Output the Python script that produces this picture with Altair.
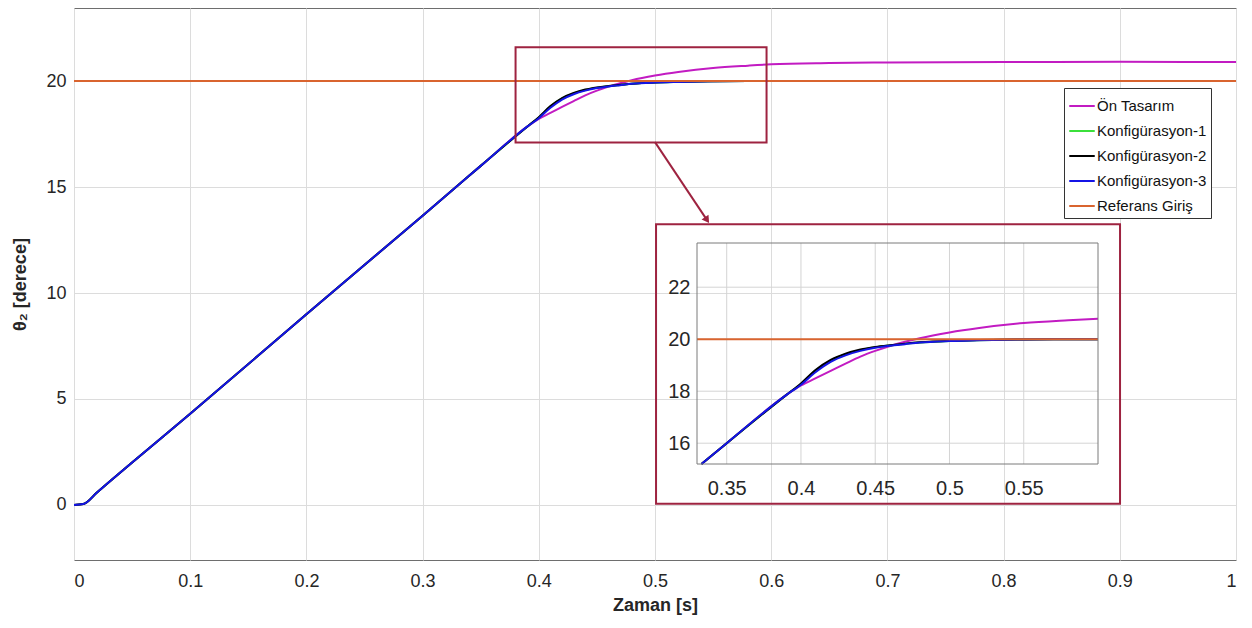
import altair as alt
import pandas as pd

# ---- data ----
T = [0.0, 0.008, 0.02, 0.05, 0.1, 0.2, 0.3, 0.333, 0.35, 0.39, 0.40, 0.41, 0.42, 0.43, 0.44, 0.45,
     0.46, 0.47, 0.48, 0.50, 0.52, 0.55, 0.58, 0.60, 0.65, 0.70, 0.80, 0.90, 1.0]
RAMP = [0.0, 0.04, 0.6, 2.0, 4.3, 9.0, 13.65, 15.2, 16.0, 17.85]
ON_TASARIM = RAMP + [18.22, 18.5, 18.78, 19.06, 19.33, 19.55,
                     19.74, 19.9, 20.04, 20.26, 20.43, 20.62, 20.73, 20.79, 20.85, 20.88, 20.9, 20.91, 20.9]
KONF_1 = RAMP + [18.28, 18.8, 19.18, 19.42, 19.58, 19.69,
                 19.76, 19.82, 19.87, 19.93, 19.96, 19.99, 20.0, 20.0, 20.0, 20.0, 20.0, 20.0, 20.0]
KONF_2 = RAMP + [18.3, 18.82, 19.2, 19.44, 19.6, 19.7,
                 19.77, 19.83, 19.88, 19.94, 19.97, 19.99, 20.0, 20.0, 20.0, 20.0, 20.0, 20.0, 20.0]
KONF_3 = RAMP + [18.25, 18.74, 19.13, 19.38, 19.55, 19.67,
                 19.75, 19.81, 19.87, 19.93, 19.96, 19.99, 20.0, 20.0, 20.0, 20.0, 20.0, 20.0, 20.0]
REF_T = [0.0, 0.33, 0.6, 1.0]
REF = [20.0, 20.0, 20.0, 20.0]

NAMES = ["Ön Tasarım", "Konfigürasyon-1", "Konfigürasyon-2", "Konfigürasyon-3", "Referans Giriş"]
COLORS = ["#C21BC2", "#3BE03B", "#000000", "#1414E6", "#D9642F"]

X_TICKS = [0, 0.1, 0.2, 0.3, 0.4, 0.5, 0.6, 0.7, 0.8, 0.9, 1.0]
Y_TICKS = [0, 5, 10, 15, 20]
IN_X_TICKS = [0.35, 0.4, 0.45, 0.5, 0.55]
IN_Y_TICKS = [16, 18, 20, 22]

# ---- layout constants ----
W, H = 1162, 552
X_DOM = [0, 1]
Y_DOM = [-2.6, 23.45]
IN_X_DOM = [0.33, 0.6]
IN_Y_DOM = [15.2, 23.7]
IN_X_RANGE = [623, 1024]
IN_Y_RANGE = [456, 235]
FONT = "Liberation Sans"
BOX = "#9E2340"

rows = []
for name, ys in zip(NAMES[:4], [ON_TASARIM, KONF_1, KONF_2, KONF_3]):
    for t, y in zip(T, ys):
        rows.append({"series": name, "t": t, "y": y})
for t, y in zip(REF_T, REF):
    rows.append({"series": NAMES[4], "t": t, "y": y})
df = pd.DataFrame(rows)
df_in = df[(df.t >= IN_X_DOM[0]) & (df.t <= IN_X_DOM[1])]

color = alt.Color("series:N", scale=alt.Scale(domain=NAMES, range=COLORS),
                  legend=alt.Legend(title=None, orient="none", legendX=990, legendY=80,
                                    fillColor="white", strokeColor="#333", padding=4,
                                    symbolType="stroke", symbolSize=650, symbolStrokeWidth=2,
                                    labelFont=FONT, labelFontSize=15, labelColor="#111",
                                    rowPadding=3, labelOffset=1))

def mx(field="t"):
    return alt.X(f"{field}:Q", scale=alt.Scale(domain=X_DOM, nice=False, zero=False),
                 axis=alt.Axis(values=X_TICKS, format="~g", title="Zaman [s]", grid=True,
                               ticks=False, domain=False, labelPadding=12, titlePadding=6))

def my(field="y"):
    return alt.Y(f"{field}:Q", scale=alt.Scale(domain=Y_DOM, nice=False, zero=False),
                 axis=alt.Axis(values=Y_TICKS, format="~g", title="θ₂ [derece]", grid=True,
                               ticks=False, domain=False, labelPadding=8, titlePadding=16))

def ix(field="t"):
    return alt.X(f"{field}:Q", scale=alt.Scale(domain=IN_X_DOM, range=IN_X_RANGE, nice=False, zero=False),
                 axis=alt.Axis(values=IN_X_TICKS, format="~g", title=None, grid=False, orient="bottom",
                               offset=-(H - IN_Y_RANGE[0]), ticks=False, domain=False,
                               labelFontSize=20, labelPadding=14, labelFont=FONT, labelColor="#262626"))

def iy(field="y"):
    return alt.Y(f"{field}:Q", scale=alt.Scale(domain=IN_Y_DOM, range=IN_Y_RANGE, nice=False, zero=False),
                 axis=alt.Axis(values=IN_Y_TICKS, format="~g", title=None, grid=False, orient="left",
                               offset=-IN_X_RANGE[0], ticks=False, domain=False,
                               labelFontSize=20, labelPadding=7, labelFont=FONT, labelColor="#262626"))

draw_order = [NAMES[0], NAMES[1], NAMES[2], NAMES[3], NAMES[4]]

main_layers = []
for s in draw_order:
    main_layers.append(
        alt.Chart(df).transform_filter(alt.datum.series == s)
        .mark_line(strokeWidth=2, interpolate="monotone").encode(x=mx(), y=my(), color=color))

zoom_box = pd.DataFrame({"x0": [0.38], "x1": [0.596], "y0": [17.1], "y1": [21.6]})
main_layers.append(
    alt.Chart(zoom_box).mark_rect(fillOpacity=0, stroke=BOX, strokeWidth=2)
    .encode(x=mx("x0"), x2="x1:Q", y=my("y0"), y2="y1:Q"))
outer_box = pd.DataFrame({"x0": [0.5009], "x1": [0.9002], "y0": [0.05], "y1": [13.25]})
main_layers.append(
    alt.Chart(outer_box).mark_rect(fillOpacity=0, stroke=BOX, strokeWidth=2)
    .encode(x=mx("x0"), x2="x1:Q", y=my("y0"), y2="y1:Q"))
arrow = pd.DataFrame({"x0": [0.5], "x1": [0.5448], "y0": [17.12], "y1": [13.44]})
main_layers.append(
    alt.Chart(arrow).mark_rule(stroke=BOX, strokeWidth=2)
    .encode(x=mx("x0"), x2="x1:Q", y=my("y0"), y2="y1:Q"))
main_layers.append(
    alt.Chart(arrow).mark_point(shape="triangle-up", filled=True, size=70, angle=146,
                                color=BOX, opacity=1)
    .encode(x=mx("x1"), y=my("y1")))

main = alt.layer(*main_layers)

# ---- inset ----
gx = pd.DataFrame({"g": IN_X_TICKS, "a": IN_Y_DOM[0], "b": IN_Y_DOM[1]})
gy = pd.DataFrame({"g": IN_Y_TICKS, "a": IN_X_DOM[0], "b": IN_X_DOM[1]})
inset_layers = [
    alt.Chart(gx).mark_rule(color="#d4d4d4", strokeWidth=1).encode(x=ix("g"), y=iy("a"), y2="b:Q"),
    alt.Chart(gy).mark_rule(color="#d4d4d4", strokeWidth=1).encode(y=iy("g"), x=ix("a"), x2="b:Q"),
]
for s in draw_order:
    inset_layers.append(
        alt.Chart(df_in).transform_filter(alt.datum.series == s)
        .mark_line(strokeWidth=2, interpolate="monotone").encode(x=ix(), y=iy(), color=color))
frame = pd.DataFrame({"x0": [IN_X_DOM[0]], "x1": [IN_X_DOM[1]], "y0": [IN_Y_DOM[0]], "y1": [IN_Y_DOM[1]]})
inset_layers.append(
    alt.Chart(frame).mark_rect(fillOpacity=0, stroke="#7a7a7a", strokeWidth=1)
    .encode(x=ix("x0"), x2="x1:Q", y=iy("y0"), y2="y1:Q"))
inset = alt.layer(*inset_layers)

chart = (
    alt.layer(main, inset)
    .resolve_scale(x="independent", y="independent")
    .resolve_axis(x="independent", y="independent")
    .properties(width=W, height=H, autosize=alt.AutoSizeParams(type="none"),
                padding={"left": 66, "top": 0, "right": 8, "bottom": 60})
    .configure_view(stroke="#6e6e6e", strokeWidth=1)
    .configure_axis(labelFont=FONT, labelFontSize=18, labelColor="#262626",
                    titleFont=FONT, titleFontSize=18, titleFontWeight="bold", titleColor="#262626",
                    gridColor="#dcdcdc", gridWidth=1)
)

chart.save("out.html", embed_options={"renderer": "svg", "actions": False})
